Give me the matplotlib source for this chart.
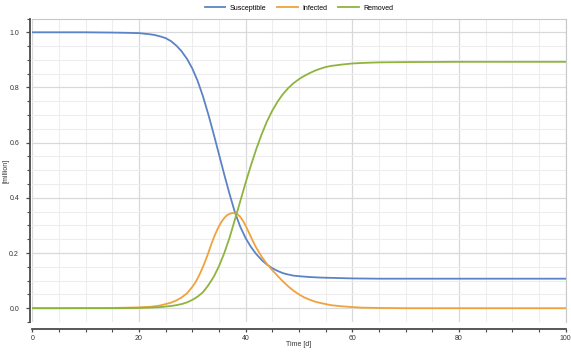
import matplotlib
matplotlib.use('Agg')
import matplotlib.pyplot as plt
from matplotlib.ticker import MultipleLocator

plt.rcParams['font.family'] = ['Liberation Sans', 'DejaVu Sans']

# values (time in days, people in million)
t_s = [0, 5, 10, 15, 18, 20, 22, 23, 24, 25, 26, 27, 28, 29, 30, 31, 32, 33, 34, 35,
       36, 37, 38, 39, 40, 41, 42, 43, 44, 45, 46, 47, 48, 49, 50, 52, 54, 56, 60,
       65, 70, 80, 90, 100]
susceptible = [1.000, 1.000, 1.000, 0.999, 0.998, 0.997, 0.993, 0.990, 0.985, 0.979,
               0.968, 0.952, 0.931, 0.904, 0.869, 0.824, 0.768, 0.703, 0.632, 0.558,
               0.484, 0.413, 0.347, 0.295, 0.254, 0.222, 0.196, 0.175, 0.158, 0.145,
               0.135, 0.127, 0.122, 0.118, 0.116, 0.113, 0.111, 0.110, 0.108,
               0.107, 0.107, 0.107, 0.107, 0.107]

t_i = [0, 5, 10, 15, 18, 20, 22, 23, 24, 25, 26, 27, 28, 29, 30, 30.5, 31, 31.5, 32,
       32.5, 33, 33.5, 34, 34.5, 35, 35.5, 36, 36.5, 37, 37.5, 38, 38.5, 39, 39.5, 40,
       40.5, 41, 41.5, 42, 43, 44, 45, 46, 47, 48, 49, 50, 51, 52, 53, 54, 55, 56,
       58, 60, 62, 65, 70, 80, 90, 100]
infected = [0.000, 0.000, 0.0003, 0.001, 0.002, 0.003, 0.005, 0.007, 0.010, 0.015,
            0.020, 0.028, 0.039, 0.054, 0.077, 0.091, 0.108, 0.128, 0.150,
            0.174, 0.200, 0.228, 0.254, 0.277, 0.297, 0.314, 0.327, 0.337, 0.342,
            0.345, 0.344, 0.340, 0.331, 0.317, 0.299,
            0.279, 0.258, 0.238, 0.219, 0.187, 0.160, 0.138, 0.117, 0.097, 0.079,
            0.063, 0.050, 0.039, 0.031, 0.024, 0.019, 0.015, 0.011,
            0.007, 0.004, 0.002, 0.001, 0.000, 0.000, 0.000, 0.000]

t_r = [0, 5, 10, 15, 18, 20, 22, 23, 24, 25, 26, 27, 28, 29, 30, 31, 32, 33, 34, 35,
       36, 37, 38, 39, 40, 41, 42, 43, 44, 45, 46, 47, 48, 49, 50, 51, 52, 53, 54,
       55, 56, 58, 60, 62, 65, 70, 80, 90, 100]
removed = [0.000, 0.000, 0.000, 0.000, 0.0005, 0.001, 0.002, 0.003, 0.004, 0.006,
           0.008, 0.011, 0.015, 0.021, 0.030, 0.042, 0.058, 0.083, 0.113, 0.152,
           0.200, 0.256, 0.322, 0.388, 0.455, 0.518, 0.577, 0.630, 0.677, 0.716,
           0.749, 0.776, 0.798, 0.816, 0.830, 0.842, 0.852, 0.861, 0.868,
           0.874, 0.878, 0.883, 0.887, 0.889, 0.891, 0.892, 0.893, 0.893, 0.893]

labels = ['Susceptible', 'Infected', 'Removed']
colors = ['#5b83c5', '#f0a23c', '#8fb43d']
txt = '#333333'

fig = plt.figure(figsize=(5.71, 3.52), dpi=100)
ax = fig.add_axes([32.3 / 571, 1 - 322 / 352, 533.3 / 571, 303.5 / 352])

for x, y, lab, c in zip([t_s, t_i, t_r], [susceptible, infected, removed], labels, colors):
    ax.plot(x, y, color=c, lw=1.3, label=lab)

ax.set_xlim(0, 100)
ax.set_ylim(-0.05, 1.05)
ax.xaxis.set_major_locator(MultipleLocator(20))
ax.xaxis.set_minor_locator(MultipleLocator(5))
ax.yaxis.set_major_locator(MultipleLocator(0.2))
ax.yaxis.set_minor_locator(MultipleLocator(0.05))
ax.yaxis.set_major_formatter(plt.FormatStrFormatter('%.1f'))

ax.grid(which='major', color='#d9d9d9', lw=0.9)
ax.grid(which='minor', color='#ededed', lw=0.8)
ax.set_axisbelow(True)

for s in ['top', 'right']:
    ax.spines[s].set_color('#c8c8c8')
    ax.spines[s].set_linewidth(0.8)
for s in ['left', 'bottom']:
    ax.spines[s].set_color('#4a4a4a')
    ax.spines[s].set_linewidth(1.3)
ax.spines['bottom'].set_position(('outward', 5))
ax.spines['left'].set_position(('outward', 1.5))

ax.tick_params(axis='x', which='major', length=2.5, width=0.9, color='#4a4a4a',
               labelsize=5, labelcolor=txt, pad=2)
ax.tick_params(axis='x', which='minor', length=2, width=0.8, color='#4a4a4a')
ax.tick_params(axis='y', which='major', length=3, width=0.9, color='#4a4a4a',
               labelsize=5, labelcolor=txt, pad=5)
ax.tick_params(axis='y', which='minor', length=2.2, width=0.8, color='#4a4a4a')

fig.text(299 / 571, 1 - 345 / 352, 'Time [d]', fontsize=5, color=txt,
         ha='center', va='center')
fig.text(6.5 / 571, 1 - 171 / 352, '[million]', fontsize=5, color=txt,
         ha='center', va='center', rotation=90)

fig.legend(loc='center', bbox_to_anchor=(299 / 571, 1 - 8 / 352), ncol=3, frameon=False,
           fontsize=5, handlelength=3.0, columnspacing=1.6, handletextpad=0.6,
           borderpad=0, borderaxespad=0)

fig.savefig('out.png', dpi=100)
